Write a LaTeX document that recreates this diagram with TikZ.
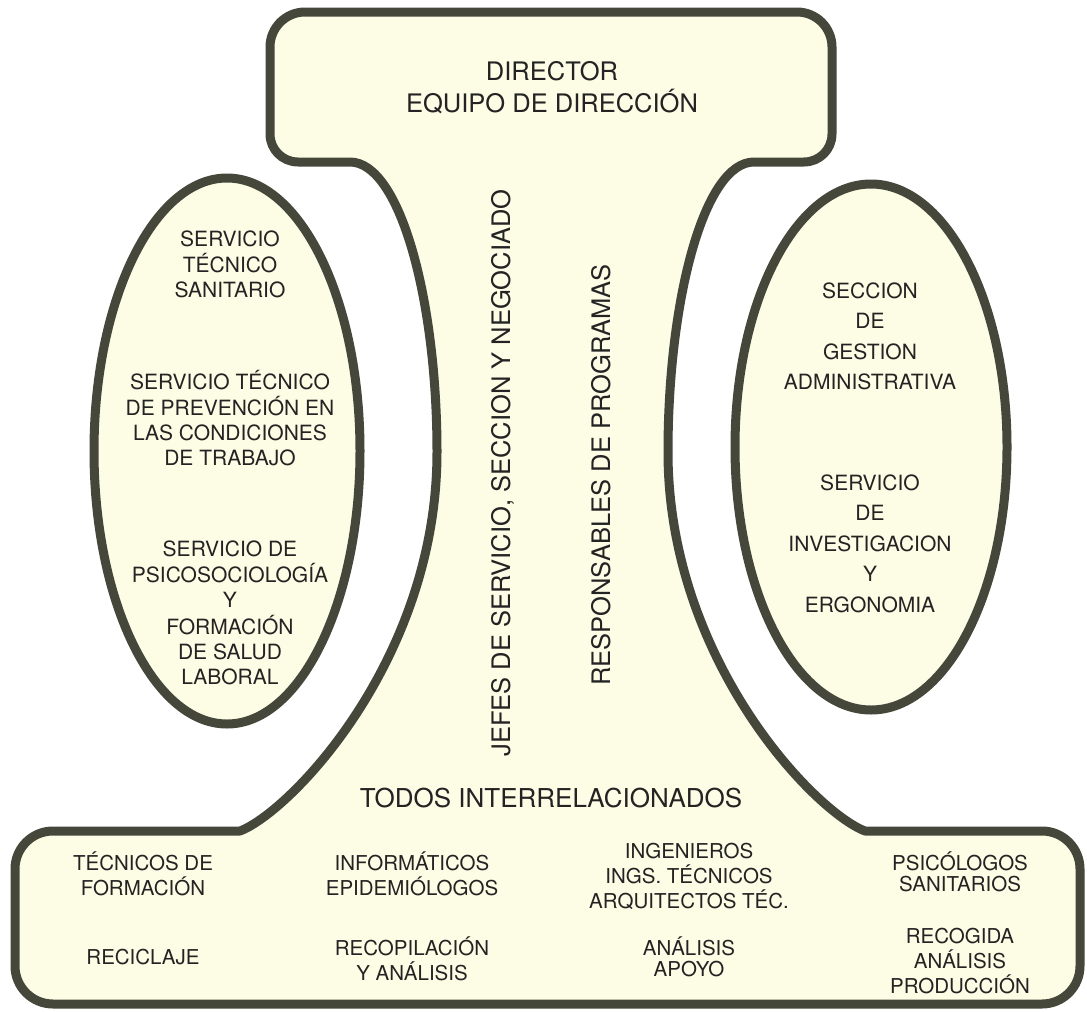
\documentclass[tikz,border=0pt]{standalone}
\usepackage{fontspec}
\setmainfont{TeX Gyre Heros}
\usetikzlibrary{shapes.geometric}
\definecolor{edge}{HTML}{45473B}
\definecolor{cream}{HTML}{FDFCE5}
\definecolor{ink}{HTML}{232323}
\newcommand\mylines[1]{\begin{tabular}[t]{@{}c@{}}#1\end{tabular}}
\begin{document}
\begin{tikzpicture}[x=1pt,y=-1pt,
  outline/.style={draw=edge,fill=cream,line width=9pt,line join=round},
  ellip/.style={outline,ellipse,inner sep=0pt,outer sep=0pt},
  bigtxt/.style={text=ink,anchor=base,inner sep=0pt,font=\fontsize{25.5}{31}\selectfont},
  ovaltxt/.style={text=ink,anchor=base,inner sep=0pt,font=\fontsize{21}{25}\selectfont},
  ovaltxtR/.style={text=ink,anchor=base,inner sep=0pt,font=\fontsize{21}{30.5}\selectfont},
  basetxt/.style={text=ink,anchor=base,inner sep=0pt,font=\fontsize{20.5}{21}\selectfont},
  vtxt/.style={text=ink,anchor=base,inner sep=0pt,rotate=90,font=\fontsize{25.5}{31}\selectfont}]
\useasboundingbox (0,0) rectangle (1087,1012);
\fill[white] (0,0) rectangle (1087,1012);
% I-shaped outline: top box, stem, bottom box
\path[outline]
 (350,162) -- (298,162) .. controls (282.5,162) and (270,149.5) .. (270,134)
 -- (270,47) .. controls (270,27.7) and (285.7,12) .. (305,12)
 -- (797,12) .. controls (816.3,12) and (832,27.7) .. (832,47)
 -- (832,134) .. controls (832,149.5) and (819.5,162) .. (804,162)
 -- (754,162) .. controls (704,162) and (668,300) .. (668,452)
 .. controls (668,660) and (815,812) .. (865,831)
 -- (1042,831) .. controls (1063,831) and (1080,848) .. (1080,869)
 -- (1080,966) .. controls (1080,987) and (1063,1004) .. (1042,1004)
 -- (53,1004) .. controls (32,1004) and (15,987) .. (15,966)
 -- (15,869) .. controls (15,848) and (32,831) .. (53,831)
 -- (240,831) .. controls (290,812) and (437,660) .. (437,452)
 .. controls (437,300) and (400,162) .. (350,162) -- cycle;
% side ovals
\node[ellip,minimum width=266pt,minimum height=546pt] (ellL) at (227,451) {};
\node[ellip,minimum width=272pt,minimum height=526pt] (ellR) at (871,447) {};
% top
\node[bigtxt] (dir) at (552,80) {\mylines{DIRECTOR\\EQUIPO DE DIRECCIÓN}};
% vertical texts
\node[vtxt] (jefes) at (510,473) {JEFES DE SERVICIO, SECCION Y NEGOCIADO};
\node[vtxt] (resp) at (610,475) {RESPONSABLES DE PROGRAMAS};
% left oval
\node[ovaltxt] (l1) at (230,246) {\mylines{SERVICIO\\TÉCNICO\\SANITARIO}};
\node[ovaltxt] (l2) at (230,389) {\mylines{SERVICIO TÉCNICO\\DE PREVENCIÓN EN\\LAS CONDICIONES\\DE TRABAJO}};
\node[ovaltxt] (l3) at (230,556) {\mylines{SERVICIO DE\\PSICOSOCIOLOGÍA\\Y\\FORMACIÓN\\DE SALUD\\LABORAL}};
% right oval
\node[ovaltxtR] (r1) at (870,298) {\mylines{SECCION\\DE\\GESTION\\ADMINISTRATIVA}};
\node[ovaltxtR] (r2) at (870,490) {\mylines{SERVICIO\\DE\\INVESTIGACION\\Y\\ERGONOMIA}};
% middle
\node[text=ink,anchor=base,inner sep=0pt,font=\fontsize{26}{30}\selectfont] (todos) at (551,807) {TODOS INTERRELACIONADOS};
% bottom box
\node[basetxt] (b1) at (143,870) {\mylines{TÉCNICOS DE\\FORMACIÓN}};
\node[basetxt] (b2) at (143,964) {RECICLAJE};
\node[basetxt] (b3) at (412,870) {\mylines{INFORMÁTICOS\\EPIDEMIÓLOGOS}};
\node[basetxt] (b4) at (412,955) {\mylines{RECOPILACIÓN\\Y ANÁLISIS}};
\node[basetxt] (b5) at (689,858) {\mylines{INGENIEROS\\INGS. TÉCNICOS\\ARQUITECTOS TÉC.}};
\node[basetxt] (b6) at (689,955) {\mylines{ANÁLISIS\\APOYO}};
\node[basetxt] (b7) at (960,870) {\mylines{PSICÓLOGOS\\SANITARIOS}};
\node[basetxt] (b8) at (960,943) {\mylines{RECOGIDA\\ANÁLISIS\\PRODUCCIÓN}};
\end{tikzpicture}
\end{document}
